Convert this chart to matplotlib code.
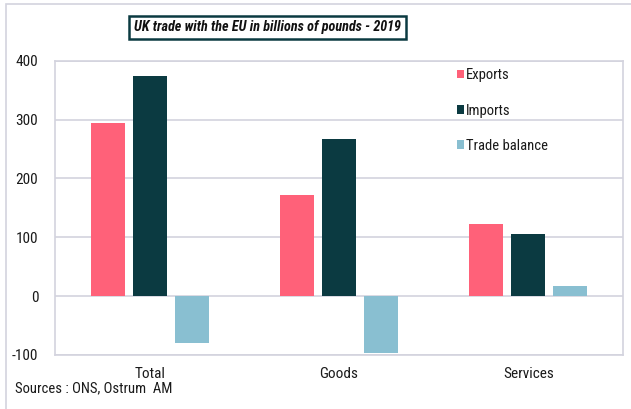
import numpy as np
import matplotlib
matplotlib.use("Agg")
import matplotlib.pyplot as plt
from matplotlib.patches import Patch, Rectangle

categories = ["Total", "Goods", "Services"]
exports = [294, 171, 123]
imports = [374, 267, 106]
balance = [-80, -96, 17]
series_names = ["Exports", "Imports", "Trade balance"]
yticks = [-100, 0, 100, 200, 300, 400]

colors = ["#FF6179", "#0B3A41", "#89BFD1"]
grid_col = "#D3D3DE"

# condensed sans, similar to Arial Narrow
plt.rcParams["font.family"] = ["Roboto Condensed", "Archivo Narrow", "DejaVu Sans"]

W, H = 631, 409
fig = plt.figure(figsize=(W / 100, H / 100), dpi=100)

def fx(px):
    return px / W

def fy(py):
    return 1 - py / H

# outer frame
fig.patches.append(Rectangle((fx(6), fy(420)), fx(640), fy(4) - fy(420),
                             transform=fig.transFigure, fill=False,
                             edgecolor=grid_col, linewidth=1.2))

ax = fig.add_axes([fx(55), fy(355), fx(623) - fx(55), fy(60.7) - fy(355)])

x = np.arange(len(categories))
width = 0.18
step = 0.222
for i, (vals, col, name) in enumerate(zip([exports, imports, balance], colors, series_names)):
    ax.bar(x + (i - 1) * step, vals, width, color=col, label=name, zorder=3)

ax.set_xlim(-0.5, len(categories) - 0.5)
ax.set_ylim(-100, 400)
ax.set_yticks(yticks)
ax.set_yticklabels([str(v) for v in yticks], fontsize=11)
ax.set_xticks(x)
ax.set_xticklabels(categories, fontsize=11)
ax.tick_params(axis="both", length=0, colors="#1a1a1a")
ax.tick_params(axis="y", pad=12)
ax.tick_params(axis="x", pad=9)
ax.yaxis.grid(True, color=grid_col, linewidth=1.2, zorder=0)
ax.set_axisbelow(True)
for s in ax.spines.values():
    s.set_color(grid_col)
    s.set_linewidth(1.2)

handles = [Patch(facecolor=c, edgecolor="none") for c in colors]
leg = ax.legend(handles, series_names, loc="upper left",
                bbox_to_anchor=(fx(457), fy(68.5)), bbox_transform=fig.transFigure,
                frameon=False, fontsize=10.5, handlelength=0.5, handleheight=0.5,
                handletextpad=0.1, labelspacing=1.45, borderpad=0, borderaxespad=0)
for t in leg.get_texts():
    t.set_color("#1a1a1a")

fig.text(fx(267.5), fy(27.5), "UK trade with the EU in billions of pounds - 2019",
         ha="center", va="center", fontsize=10.2, fontweight="bold", style="italic",
         color="#111111",
         bbox=dict(boxstyle="square,pad=0.33", facecolor="white",
                   edgecolor="#0B3A41", linewidth=1.8))

fig.text(fx(15), fy(388), "Sources : ONS, Ostrum  AM", ha="left", va="center",
         fontsize=10.5, color="#1a1a1a")

fig.savefig("out.png", dpi=100)
